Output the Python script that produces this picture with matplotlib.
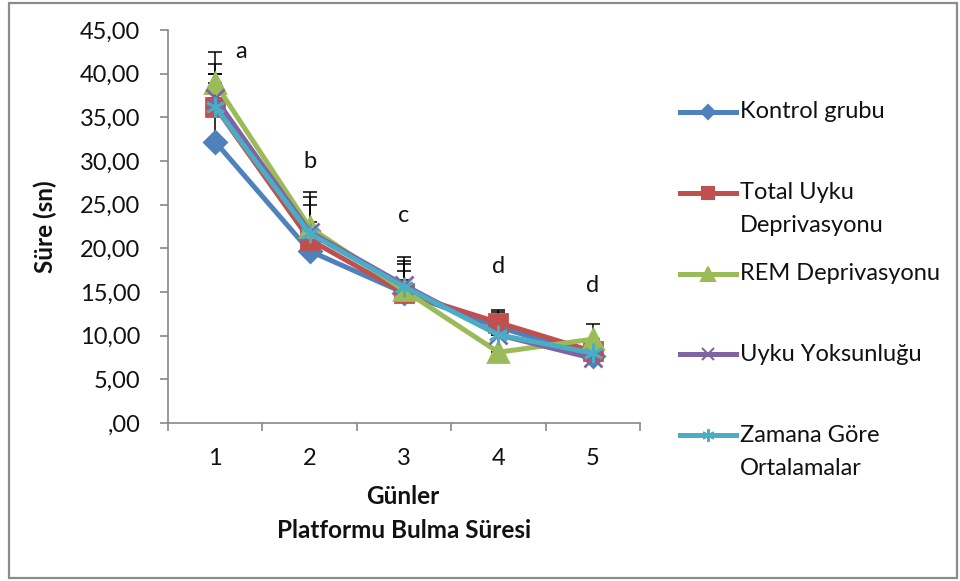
import matplotlib.pyplot as plt
from matplotlib.lines import Line2D

plt.rcParams['font.family'] = ['Lato', 'DejaVu Sans']

days = [1, 2, 3, 4, 5]
series_names = ["Kontrol grubu", "Total Uyku\nDeprivasyonu", "REM Deprivasyonu",
                "Uyku Yoksunluğu", "Zamana Göre\nOrtalamalar"]
kontrol = [32.2, 19.7, 14.9, 11.0, 7.7]
total_uyku = [36.2, 21.0, 14.9, 11.5, 8.2]
rem = [38.9, 22.4, 15.2, 8.1, 9.6]
uyku_yok = [37.2, 21.9, 15.8, 10.1, 7.4]
zamana = [36.2, 21.7, 15.6, 10.1, 8.0]
# upper standard errors (only the plus side is drawn)
err_kontrol = [3.8, 1.5, 1.5, 1.7, 1.2]
err_total = [3.8, 2.0, 2.5, 1.4, 1.3]
err_rem = [3.6, 4.1, 3.8, 2.8, 1.7]
err_uyku = [3.9, 4.0, 2.8, 1.5, 1.2]
err_zamana = [3.8, 3.3, 2.6, 1.6, 1.3]
group_letters = ["a", "b", "c", "d", "d"]
letter_y = [42.5, 29.9, 23.8, 17.9, 15.8]
yticks = [0, 5, 10, 15, 20, 25, 30, 35, 40, 45]

values = [kontrol, total_uyku, rem, uyku_yok, zamana]
errors = [err_kontrol, err_total, err_rem, err_uyku, err_zamana]
colors = ["#4F81BD", "#C0504D", "#9BBB59", "#8064A2", "#4BACC6"]
markers = ["D", "s", "^", "x", (6, 2, 0)]
msizes = [11, 13, 15, 13, 14]
leg_msizes = [7, 9, 10, 9, 9]
TXT = "#111111"

fig = plt.figure(figsize=(9.6, 5.81), dpi=100)
ax = fig.add_axes([168 / 960, 1 - 423 / 581, 472 / 960, 393 / 581])

# error bars sit underneath the lines
for vals, errs in zip(values, errors):
    ax.errorbar(days, vals, yerr=[[0] * len(errs), errs], fmt="none",
                ecolor="black", elinewidth=1.1, capsize=5, capthick=1.1, zorder=1)

for i, (vals, c, m, ms) in enumerate(zip(values, colors, markers, msizes)):
    ax.plot(days, vals, color=c, lw=3.6, marker=m, ms=ms, mfc=c, mec=c,
            mew=2.0, zorder=2 + i, solid_joinstyle="miter")

for d, lab, ly in zip(days, group_letters, letter_y):
    dx = 0.27 if lab == "a" else 0.0
    ax.text(d + dx, ly, lab, ha="center", va="center", fontsize=17, color=TXT)

ax.set_xlim(0.5, 5.5)
ax.set_ylim(0, 45)
ax.set_yticks(yticks)
ax.set_yticklabels([(f"{v:.2f}".replace(".", ",") if v else ",00") for v in yticks])
ax.set_xticks(days)
ax.set_xticks([0.5, 1.5, 2.5, 3.5, 4.5, 5.5], minor=True)
ax.tick_params(axis="x", which="major", length=0, pad=18, labelsize=17, labelcolor=TXT)
ax.tick_params(axis="x", which="minor", length=6, color="#888888", width=1.2)
ax.tick_params(axis="y", length=6, color="#888888", width=1.2, pad=14, labelsize=17,
               labelcolor=TXT)
for s in ("top", "right"):
    ax.spines[s].set_visible(False)
for s in ("left", "bottom"):
    ax.spines[s].set_color("#888888")
    ax.spines[s].set_linewidth(1.2)

ax.set_ylabel("Süre (sn)", fontsize=17.5, fontweight="bold", labelpad=16, color=TXT)
fig.text(403 / 960, 1 - 497 / 581, "Günler", ha="center", va="center",
         fontsize=17.5, fontweight="bold", color=TXT)
fig.text(404 / 960, 1 - 530 / 581, "Platformu Bulma Süresi", ha="center", va="center",
         fontsize=17.5, fontweight="bold", color=TXT)

# legend drawn by hand so each entry's first line sits on an even grid
for i, (name, c, m, ms) in enumerate(zip(series_names, colors, markers, leg_msizes)):
    y = 1 - (112 + 80.8 * i) / 581
    fig.add_artist(Line2D([680 / 960, 736 / 960], [y, y], color=c, lw=3.6,
                          transform=fig.transFigure))
    fig.add_artist(Line2D([708 / 960], [y], color=c, marker=m, ms=ms, mfc=c, mec=c,
                          mew=1.5, transform=fig.transFigure))
    for k, line in enumerate(name.split("\n")):
        fig.text(740 / 960, y - k * 33 / 581, line, ha="left", va="center",
                 fontsize=17, color=TXT)

# chart frame
fig.add_artist(plt.Rectangle((9 / 960, 3 / 581), 948 / 960, 575 / 581, fill=False,
                             ec="#8c8c8c", lw=1.6, transform=fig.transFigure))

fig.savefig("out.png", dpi=100)
